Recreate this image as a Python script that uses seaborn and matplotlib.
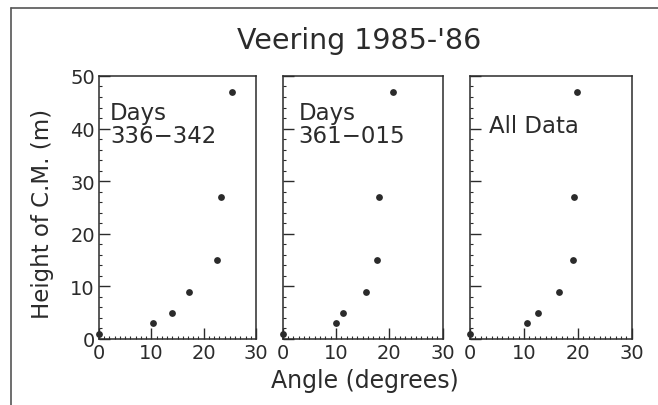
import pandas as pd
import numpy as np
import matplotlib.pyplot as plt
import seaborn as sns
from matplotlib.ticker import MultipleLocator

# data
heights = [1, 3, 5, 9, 15, 27, 47]
angle_336_342 = [0.0, 10.4, 14.0, 17.1, 22.5, 23.3, 25.4]
angle_361_015 = [0.0, 10.0, 11.4, 15.6, 17.7, 18.1, 20.7]
angle_all = [0.0, 10.5, 12.6, 16.5, 19.1, 19.2, 19.8]
panel_labels = ["Days\n336\u2212342", "Days\n361\u2212015", "All Data"]

sns.set_style("white")
plt.rcParams['font.family'] = ['DejaVu Sans']
ink = '#2b2b2b'

fig = plt.figure(figsize=(6.58, 4.06), dpi=100)

# panel boxes (left, bottom, width, height) in figure fractions
boxes = [(0.1505, 0.1626, 0.2386, 0.6478),
         (0.4296, 0.1626, 0.2432, 0.6478),
         (0.7143, 0.1626, 0.2460, 0.6478)]
series = [angle_336_342, angle_361_015, angle_all]
label_pos = [(0.07, 0.905), (0.10, 0.905), (0.115, 0.855)]

for i, (box, angles) in enumerate(zip(boxes, series)):
    ax = fig.add_axes(box)
    df = pd.DataFrame({'angle': angles, 'height': heights})
    sns.scatterplot(data=df, x='angle', y='height', ax=ax, color=ink,
                    s=24, edgecolor=ink, linewidth=0, clip_on=False, zorder=3)
    ax.set_xlim(0, 30)
    ax.set_ylim(0, 50)
    ax.set_xlabel('')
    ax.set_ylabel('')
    ax.xaxis.set_major_locator(MultipleLocator(10))
    ax.xaxis.set_minor_locator(MultipleLocator(1))
    ax.yaxis.set_major_locator(MultipleLocator(10))
    ax.yaxis.set_minor_locator(MultipleLocator(2))
    ax.tick_params(axis='both', which='both', bottom=True, left=True,
                   top=False, right=False)
    ax.tick_params(axis='both', which='major', direction='in', length=8,
                   width=1.0, color=ink, labelsize=14, labelcolor=ink, pad=3)
    ax.tick_params(axis='both', which='minor', direction='in', length=2.5,
                   width=0.8, color=ink)
    if i > 0:
        ax.set_yticklabels([])
    for sp in ax.spines.values():
        sp.set_visible(True)
        sp.set_color(ink)
        sp.set_linewidth(1.1)
    ax.text(label_pos[i][0], label_pos[i][1], panel_labels[i],
            transform=ax.transAxes, ha='left', va='top', fontsize=16.5,
            color=ink, linespacing=1.0)

fig.text(0.546, 0.90, "Veering 1985-'86", ha='center', va='center',
         fontsize=20.5, color=ink)
fig.text(0.555, 0.062, 'Angle (degrees)', ha='center', va='center',
         fontsize=17, color=ink)
fig.text(0.064, 0.473, 'Height of C.M. (m)', ha='center', va='center',
         rotation=90, fontsize=16.5, color=ink)

# scan frame (top and left edges)
fig.add_artist(plt.Line2D([0.016, 1.0], [0.978, 0.978], color='#555555', lw=1.2))
fig.add_artist(plt.Line2D([0.016, 0.016], [0.0, 0.978], color='#555555', lw=1.2))

fig.savefig('out.png', dpi=100)
